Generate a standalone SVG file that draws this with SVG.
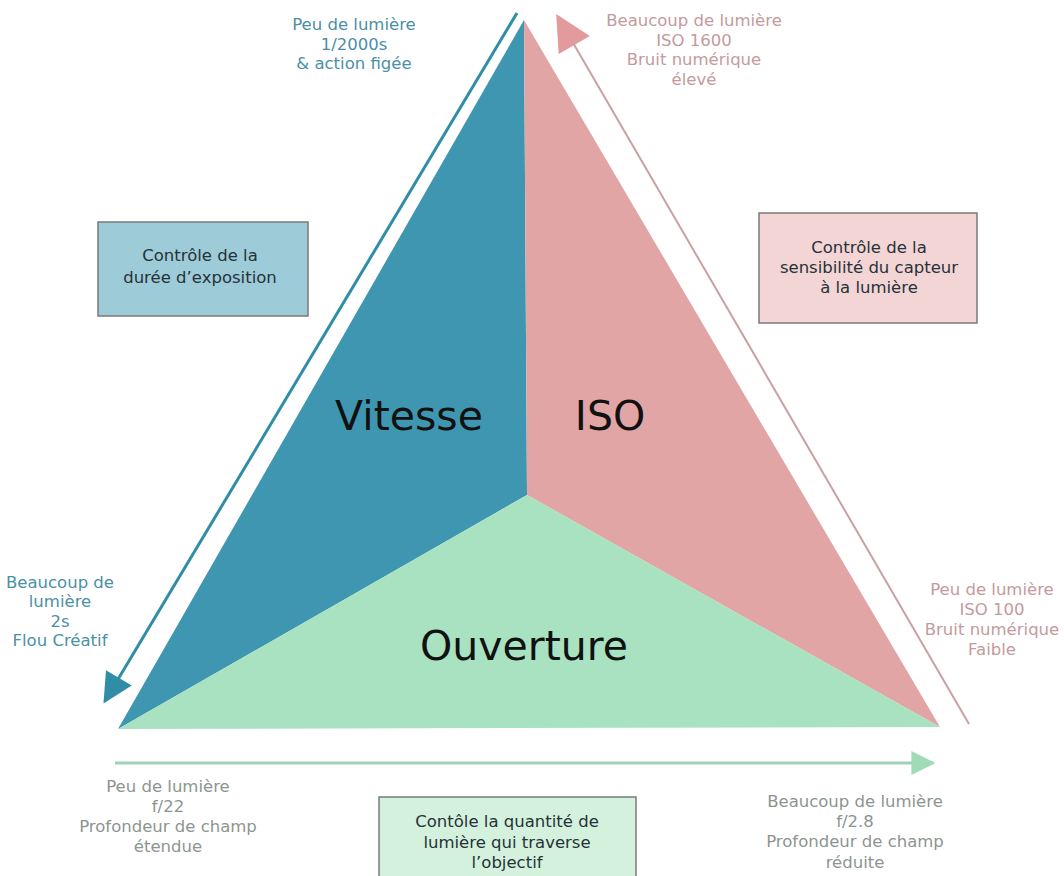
<svg xmlns="http://www.w3.org/2000/svg" width="1064" height="876" viewBox="0 0 1064 876">
<defs>
<style>
text{font-family:"DejaVu Sans","Verdana",sans-serif;text-anchor:middle}
.sm{font-size:16.5px}
.big{font-size:41px;fill:#111}
.teal{fill:#4a90a6}
.pink{fill:#c49a9d}
.gray{fill:#8c958f}
.dark{fill:#263238;font-size:16.5px}
.box{stroke:#7a7a7a;stroke-width:1.5}
</style>
<marker id="mTeal" viewBox="0 0 10 10" refX="9" refY="5" markerWidth="34" markerHeight="30" markerUnits="userSpaceOnUse" orient="auto"><path d="M0,0 L10,5 L0,10 z" fill="#2f8ea6"/></marker>
<marker id="mPink" viewBox="0 0 10 10" refX="9" refY="5" markerWidth="40" markerHeight="36" markerUnits="userSpaceOnUse" orient="auto"><path d="M0,0 L10,5 L0,10 z" fill="#e29a9c"/></marker>
<marker id="mGreen" viewBox="0 0 10 10" refX="9" refY="5" markerWidth="24" markerHeight="32" markerUnits="userSpaceOnUse" orient="auto"><path d="M0,0 L10,5 L0,10 z" fill="#9fdcb6"/></marker>
</defs>
<rect width="1064" height="876" fill="#ffffff"/>
<g id="triangle">
<polygon id="vitesse-area" points="524,20 527,495 118,729" fill="#3f96b0"/>
<polygon id="iso-area" points="524,20 940,727 527,495" fill="#e2a5a6"/>
<polygon id="ouverture-area" points="118,729 527,495 940,727" fill="#a8e2c1"/>
</g>
<g id="connectors">
<line x1="517" y1="13" x2="105" y2="701" stroke="#2f8ea6" stroke-width="3" marker-end="url(#mTeal)"/>
<line x1="969" y1="724" x2="558" y2="17" stroke="#c9a0a4" stroke-width="2" marker-end="url(#mPink)"/>
<line x1="115" y1="763" x2="933" y2="763" stroke="#9fd3b8" stroke-width="3" marker-end="url(#mGreen)"/>
</g>
<g id="label-vitesse"><text class="big" x="409" y="430">Vitesse</text></g>
<g id="label-iso"><text class="big" x="610" y="430">ISO</text></g>
<g id="label-ouverture"><text class="big" x="524" y="660">Ouverture</text></g>
<g id="box-vitesse">
<rect class="box" x="98" y="222" width="210" height="94" fill="#9dcbd8"/>
<text class="dark" x="200" y="261">Contrôle de la</text>
<text class="dark" x="200" y="283">durée d’exposition</text>
</g>
<g id="box-iso">
<rect class="box" x="759" y="213" width="218" height="110" fill="#f3d5d6"/>
<text class="dark" x="869" y="253">Contrôle de la</text>
<text class="dark" x="869" y="273">sensibilité du capteur</text>
<text class="dark" x="869" y="293">à la lumière</text>
</g>
<g id="box-ouverture">
<rect class="box" x="379" y="797" width="257" height="84" fill="#d3f1dd"/>
<text class="dark" x="507" y="827">Contôle la quantité de</text>
<text class="dark" x="507" y="848">lumière qui traverse</text>
<text class="dark" x="507" y="868">l’objectif</text>
</g>
<g id="note-vitesse-top">
<text class="sm teal" x="354" y="30">Peu de lumière</text>
<text class="sm teal" x="354" y="50">1/2000s</text>
<text class="sm teal" x="354" y="69">&amp; action figée</text>
</g>
<g id="note-vitesse-bottom">
<text class="sm teal" x="60" y="588">Beaucoup de</text>
<text class="sm teal" x="60" y="607">lumière</text>
<text class="sm teal" x="60" y="627">2s</text>
<text class="sm teal" x="60" y="646">Flou Créatif</text>
</g>
<g id="note-iso-top">
<text class="sm pink" x="694" y="26">Beaucoup de lumière</text>
<text class="sm pink" x="694" y="46">ISO 1600</text>
<text class="sm pink" x="694" y="65">Bruit numérique</text>
<text class="sm pink" x="694" y="85">élevé</text>
</g>
<g id="note-iso-bottom">
<text class="sm pink" x="992" y="595">Peu de lumière</text>
<text class="sm pink" x="992" y="615">ISO 100</text>
<text class="sm pink" x="992" y="635">Bruit numérique</text>
<text class="sm pink" x="992" y="655">Faible</text>
</g>
<g id="note-ouverture-left">
<text class="sm gray" x="168" y="792">Peu de lumière</text>
<text class="sm gray" x="168" y="812">f/22</text>
<text class="sm gray" x="168" y="832">Profondeur de champ</text>
<text class="sm gray" x="168" y="852">étendue</text>
</g>
<g id="note-ouverture-right">
<text class="sm gray" x="855" y="807">Beaucoup de lumière</text>
<text class="sm gray" x="855" y="827">f/2.8</text>
<text class="sm gray" x="855" y="847">Profondeur de champ</text>
<text class="sm gray" x="855" y="868">réduite</text>
</g>
</svg>
